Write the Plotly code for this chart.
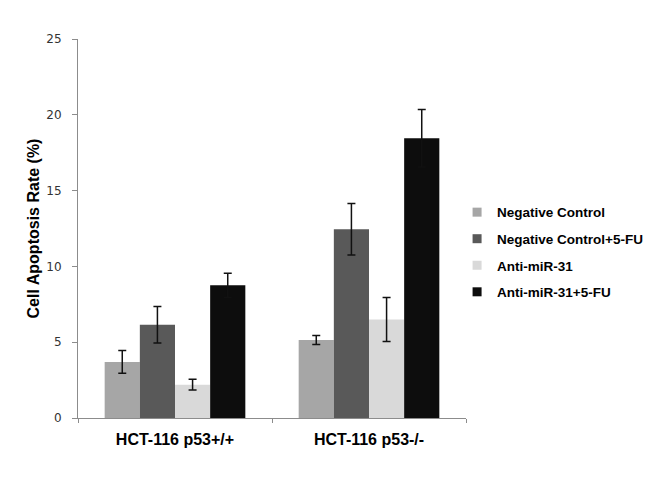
import plotly.graph_objects as go

# data
groups = ["HCT-116 p53+/+", "HCT-116 p53-/-"]
series_names = ["Negative Control", "Negative Control+5-FU", "Anti-miR-31", "Anti-miR-31+5-FU"]
nc = [3.7, 5.15]
nc_5fu = [6.15, 12.45]
anti = [2.2, 6.5]
anti_5fu = [8.75, 18.45]
nc_err = [0.75, 0.3]
nc_5fu_err = [1.2, 1.7]
anti_err = [0.35, 1.45]
anti_5fu_err = [0.8, 1.9]

colors = ["#A6A6A6", "#595959", "#D9D9D9", "#0D0D0D"]
values = [nc, nc_5fu, anti, anti_5fu]
errors = [nc_err, nc_5fu_err, anti_err, anti_5fu_err]

fig = go.Figure()
for name, vals, err, col in zip(series_names, values, errors, colors):
    fig.add_trace(
        go.Bar(
            x=groups, y=vals, name=name, legendgroup=name, showlegend=False,
            marker=dict(color=col, line=dict(width=0)),
            error_y=dict(type="data", array=err, color="#111111", thickness=1.5, width=4),
        )
    )
# small square legend keys, like the original
for name, col in zip(series_names, colors):
    fig.add_trace(
        go.Scatter(
            x=[None], y=[None], mode="markers", name=name, legendgroup=name,
            marker=dict(symbol="square", size=9, color=col),
        )
    )

# page body has an 8px margin, so the figure is a little smaller
fig.update_layout(
    width=662, height=472,
    margin=dict(l=70, r=204, t=31, b=62),
    paper_bgcolor="white", plot_bgcolor="white",
    barmode="group", bargap=0.275, bargroupgap=0,
    font=dict(family="Liberation Sans, Arial, sans-serif", color="#000000"),
    showlegend=True,
    legend=dict(
        x=0.977, y=0.437, xanchor="left", yanchor="middle",
        font=dict(size=13.5, color="#000000", family="Liberation Sans, Arial, sans-serif", weight="bold"),
        itemwidth=30, tracegroupgap=6, bgcolor="rgba(0,0,0,0)",
    ),
)
fig.update_xaxes(
    showline=True, linecolor="#8C8C8C", linewidth=1,
    ticks="outside", tickson="boundaries", ticklen=4, tickcolor="#8C8C8C",
    tickfont=dict(size=16, color="#000000", weight="bold"),
    ticklabelstandoff=7,
    showgrid=False,
)
fig.update_yaxes(
    range=[0, 25], dtick=5, showline=True, linecolor="#8C8C8C", linewidth=1,
    ticks="outside", ticklen=5, tickcolor="#8C8C8C",
    tickfont=dict(size=12, color="#333333", family="DejaVu Sans, Verdana, sans-serif"),
    ticklabelstandoff=8,
    showgrid=False, zeroline=False,
    title=dict(text="Cell Apoptosis Rate (%)", font=dict(size=16, color="#000000", weight="bold"), standoff=2),
)

fig.write_html("out.html")
